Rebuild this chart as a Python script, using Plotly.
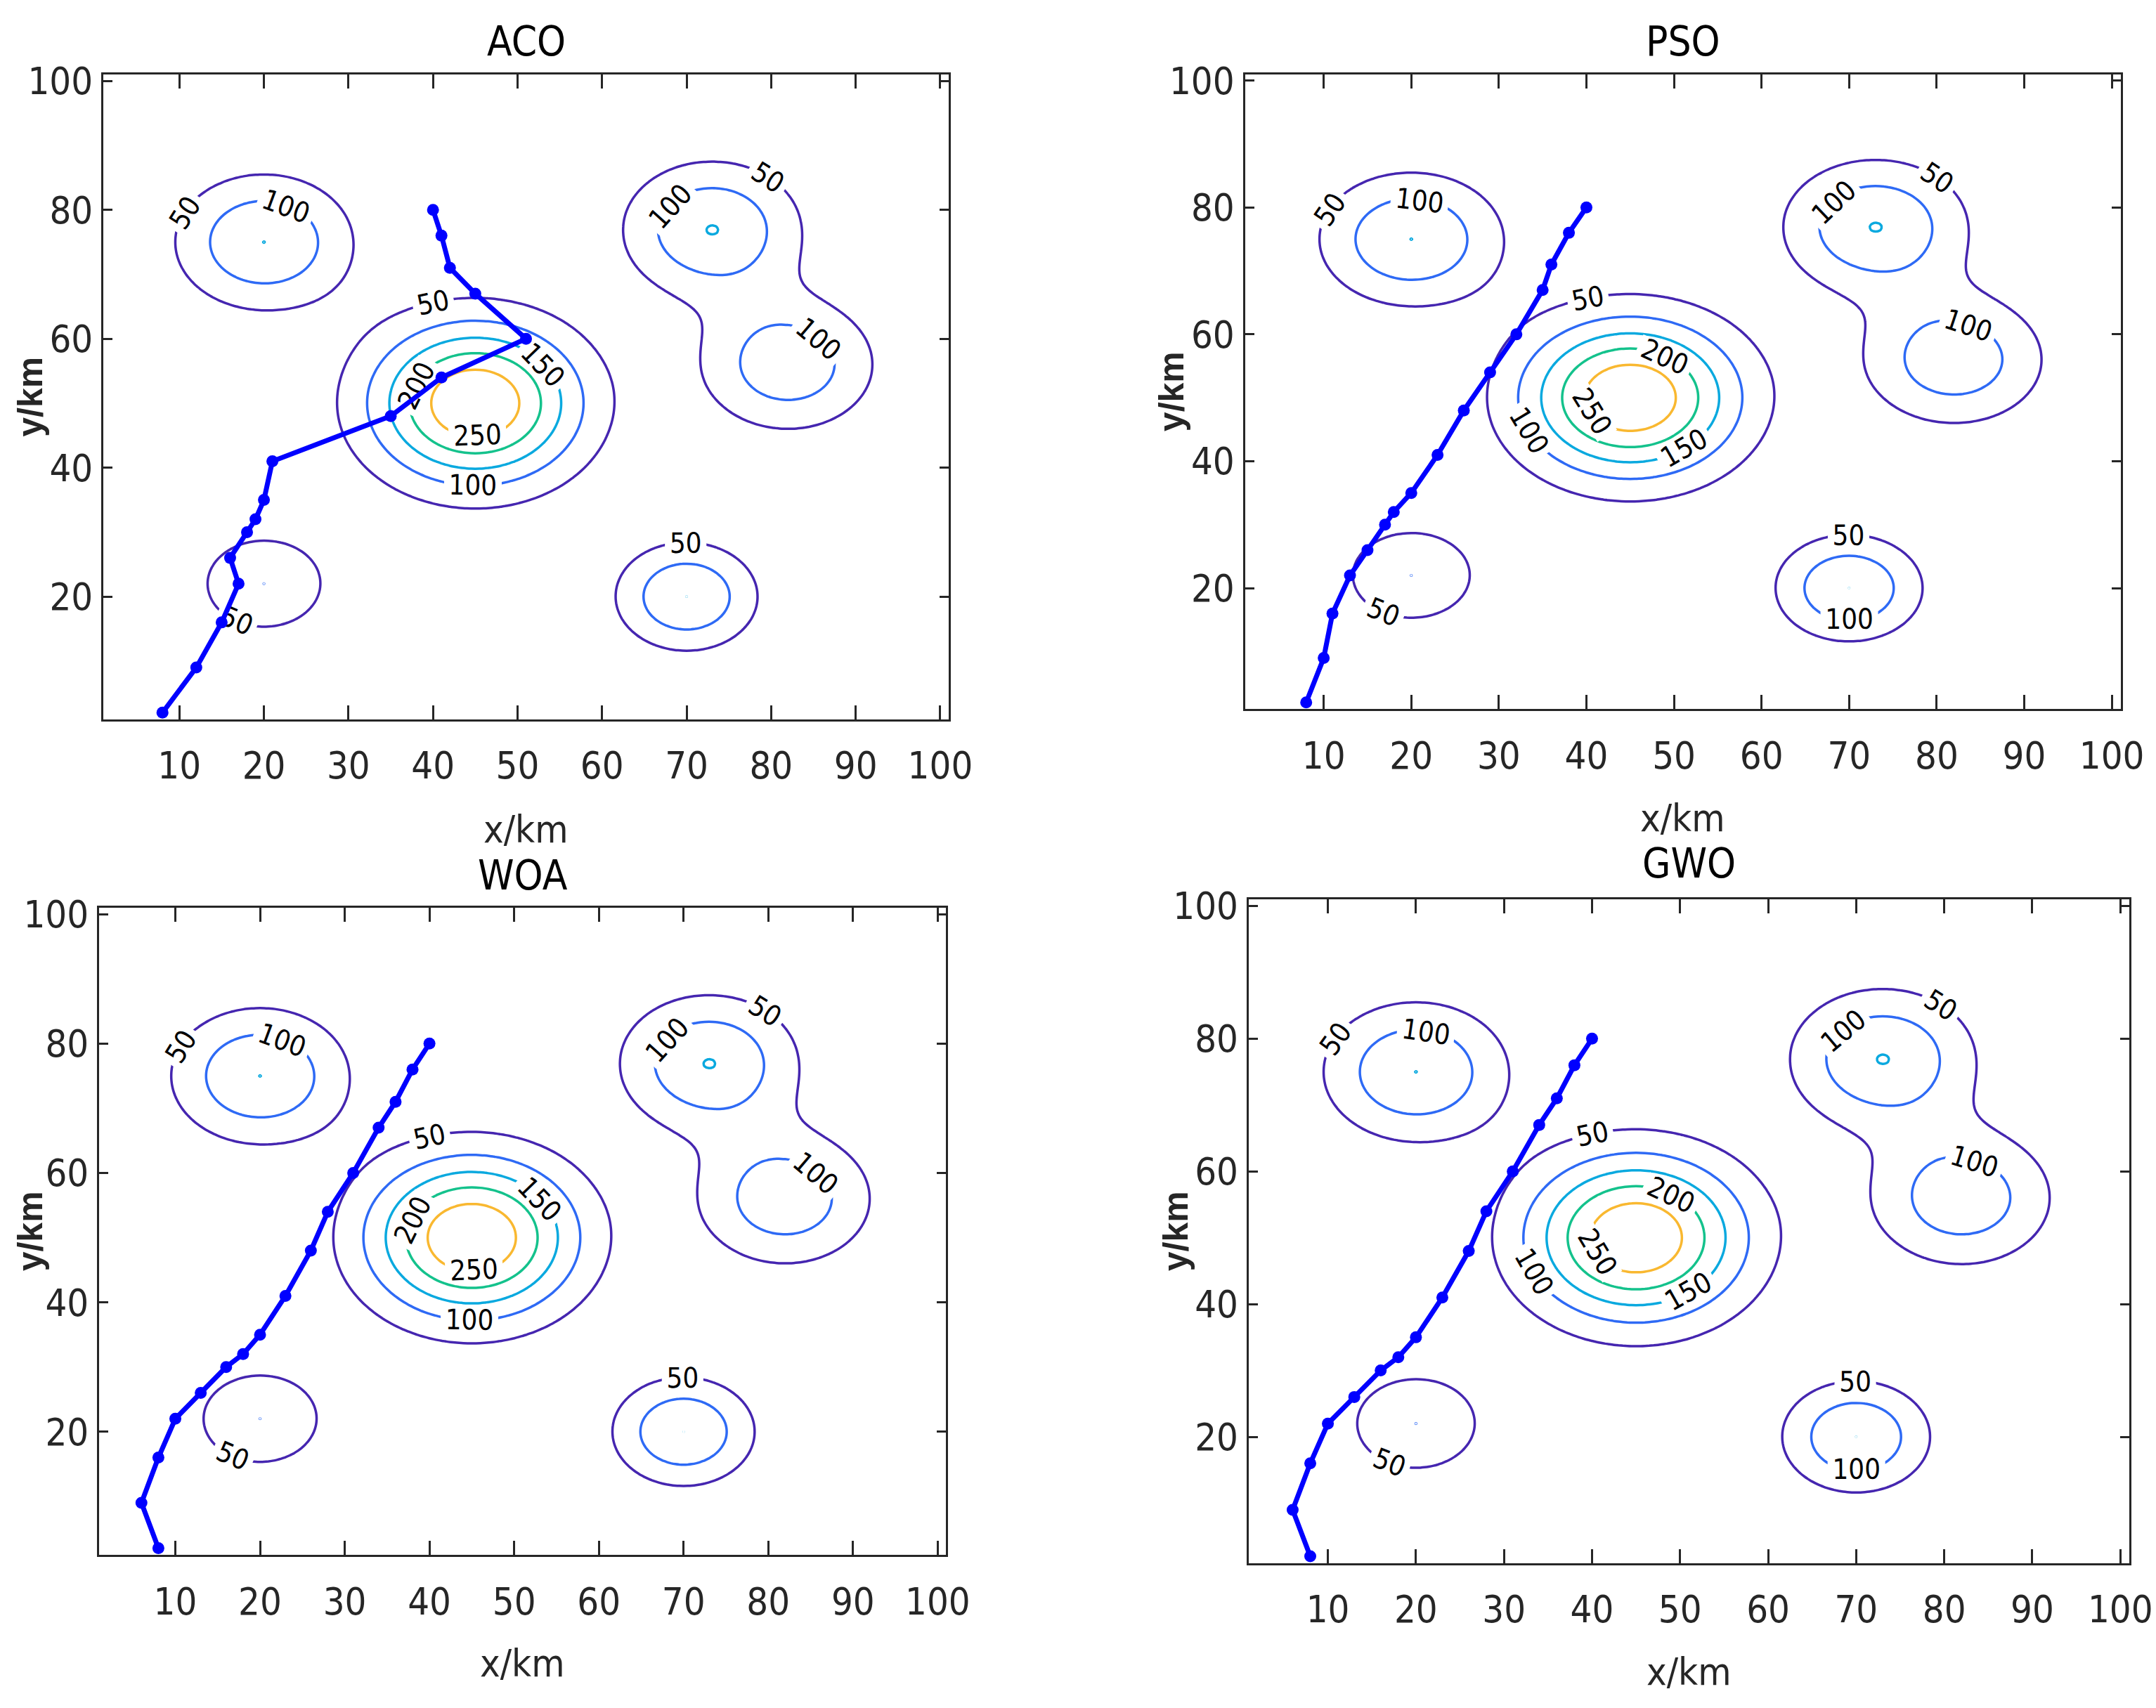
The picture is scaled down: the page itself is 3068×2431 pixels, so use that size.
import numpy as np
import plotly.graph_objects as go

# ---------------- data ----------------
titles = ["ACO", "PSO", "WOA", "GWO"]

# paths (x/km, y/km)
path_y = [2, 9, 16, 22, 26, 30, 32, 35, 41, 48, 54, 60, 67, 71, 76, 80]
aco_x = [8, 12, 15, 17, 16, 18, 19, 20, 21, 35, 41, 51, 45, 42, 41, 40]
pso_x = [8, 10, 11, 13, 15, 17, 18, 20, 23, 26, 29, 32, 35, 36, 38, 40]
woa_x = [8, 6, 8, 10, 13, 16, 18, 20, 23, 26, 28, 31, 34, 36, 38, 40]
gwo_x = [8, 6, 8, 10, 13, 16, 18, 20, 23, 26, 28, 31, 34, 36, 38, 40]
paths_x = [aco_x, pso_x, woa_x, gwo_x]

peak_x0 = [45, 20, 73, 82, 20, 70]
peak_y0 = [50, 75, 77, 56, 22, 20]
peak_h = [300, 150, 150, 135, 100, 150]
peak_s = [12.2, 10, 10, 10, 8, 8]

contour_levels = [50, 100, 150, 200, 250, 300]
level_colors = ["#4526b0", "#2e6af5", "#0aa9df", "#14c28c", "#f9b830", "#f2e41c"]
tick_x = [10, 20, 30, 40, 50, 60, 70, 80, 90, 100]
tick_y = [20, 40, 60, 80, 100]

# ---------------- terrain grid ----------------
gx = np.arange(1, 101.01, 0.5)
gy = np.arange(1, 101.01, 0.5)
GX, GY = np.meshgrid(gx, gy)
Z = np.zeros_like(GX)
for x0, y0, h, s in zip(peak_x0, peak_y0, peak_h, peak_s):
    Z += h * np.exp(-((GX - x0) / s) ** 2 - ((GY - y0) / s) ** 2)

lv0, lv1 = contour_levels[0], contour_levels[-1]
colorscale = [[(lv - lv0) / (lv1 - lv0), c] for lv, c in zip(contour_levels, level_colors)]

W, H = 3068, 2431
# axes boxes in pixels: left, right, top, bottom
boxes = [
    (147, 1350, 106, 1023.5),
    (1771.5, 3017.6, 105.6, 1008.7),
    (141, 1346.4, 1292, 2212.7),
    (1776.8, 3029.8, 1280, 2224.5),
]
title_y = [59, 59, 1246, 1229]
xlabel_y = [1180, 1164, 2367, 2379]
ylabel_x = [43, 1667, 43, 1673]

NARROW = "Liberation Sans Narrow, Arial Narrow, DejaVu Sans Condensed, sans-serif"
TXT = "#262626"

fig = go.Figure()
layout = dict(
    width=W, height=H, margin=dict(l=0, r=0, t=0, b=0, pad=0, autoexpand=False),
    paper_bgcolor="white", plot_bgcolor="white", showlegend=False,
)
annotations = []

for i in range(4):
    xa = "x" if i == 0 else f"x{i+1}"
    ya = "y" if i == 0 else f"y{i+1}"
    l, r, t, b = boxes[i]
    fig.add_trace(go.Contour(
        x=gx, y=gy, z=Z, xaxis=xa, yaxis=ya,
        colorscale=colorscale, showscale=False,
        autocontour=False,
        contours=dict(start=lv0, end=lv1, size=50, coloring="lines",
                      showlabels=True,
                      labelfont=dict(family=NARROW, size=40, color="black")),
        line=dict(width=3.5), hoverinfo="skip",
    ))
    fig.add_trace(go.Scatter(
        x=paths_x[i], y=path_y, xaxis=xa, yaxis=ya, mode="lines+markers",
        line=dict(color="rgb(0,0,255)", width=7),
        marker=dict(color="rgb(0,0,255)", size=17),
    ))
    axcommon = dict(showgrid=False, zeroline=False, showline=True, linewidth=3,
                    linecolor=TXT, mirror="ticks", ticks="inside", tickwidth=3,
                    tickcolor=TXT, range=[1, 101],
                    tickfont=dict(family=NARROW, size=54, color=TXT))
    xkey = "xaxis" if i == 0 else f"xaxis{i+1}"
    ykey = "yaxis" if i == 0 else f"yaxis{i+1}"
    layout[xkey] = dict(axcommon, domain=[l / W, r / W], anchor=ya,
                        tickvals=tick_x, ticklen=20, ticklabelstandoff=17)
    layout[ykey] = dict(axcommon, domain=[1 - b / H, 1 - t / H], anchor=xa,
                        tickvals=tick_y, ticklen=13, ticklabelstandoff=1)
    cx = (l + r) / 2 / W
    annotations.append(dict(text=titles[i], x=cx, y=1 - title_y[i] / H, xref="paper", yref="paper",
                            showarrow=False, xanchor="center", yanchor="middle",
                            font=dict(family=NARROW, size=58, color="black")))
    annotations.append(dict(text="x/km", x=cx, y=1 - xlabel_y[i] / H, xref="paper", yref="paper",
                            showarrow=False, xanchor="center", yanchor="middle",
                            font=dict(family=NARROW, size=54, color=TXT)))
    annotations.append(dict(text="<b>y/km</b>", x=ylabel_x[i] / W, y=1 - (t + b) / 2 / H,
                            xref="paper", yref="paper", textangle=-90,
                            showarrow=False, xanchor="center", yanchor="middle",
                            font=dict(family="Liberation Sans, Arial, sans-serif", size=50, color=TXT)))

layout["annotations"] = annotations
fig.update_layout(**layout)
fig.write_html("out.html", config={"displayModeBar": False},
               post_script="document.body.style.margin='0px';document.body.style.overflow='hidden';")
